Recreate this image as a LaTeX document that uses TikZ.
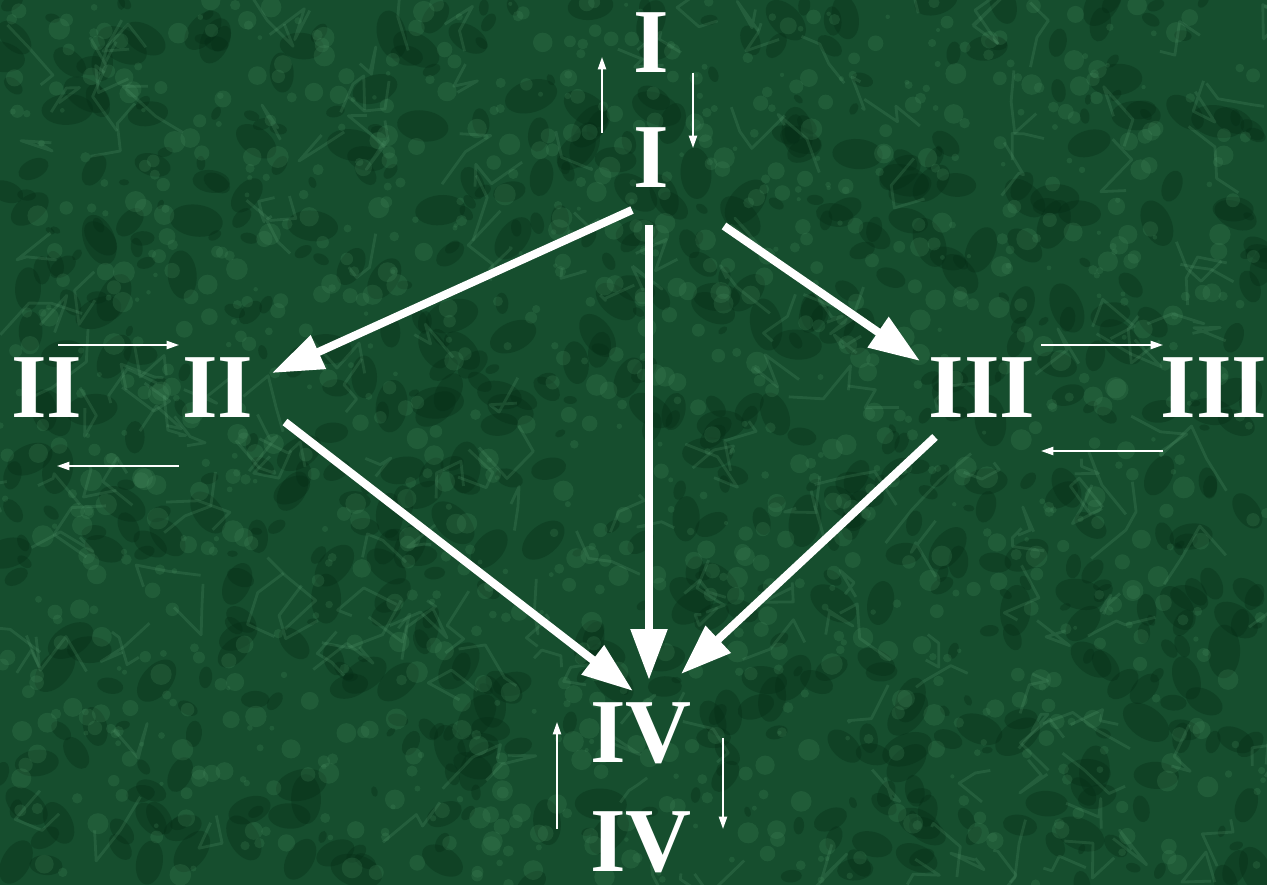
\documentclass[tikz,border=0pt]{standalone}
\usepackage{fontspec}
\setmainfont{Liberation Serif}
\usetikzlibrary{arrows.meta}
\definecolor{bgdark}{RGB}{22,78,46}
\definecolor{bgmid}{RGB}{72,142,96}
\definecolor{bglight}{RGB}{100,170,125}
\definecolor{bgdeep}{RGB}{5,44,22}
\tikzset{
  numeral/.style={text=white, font=\fontsize{52}{52}\selectfont\bfseries, inner sep=0pt},
  bigarrow/.style={white, line width=4.6pt, -{Triangle[length=29pt,width=20pt]}},
  smallarrow/.style={white, line width=1.1pt, -{Triangle[length=7pt,width=4.6pt]}},
  blob/.style={fill=bgmid, opacity=0.22},
  darkblob/.style={fill=bgdeep, opacity=0.35},
  vein/.style={draw=bglight, opacity=0.18, line width=1.6pt, line join=round}
}
\begin{document}
\begin{tikzpicture}[x=0.02cm,y=-0.02cm]
\fill[bgdark] (0,0) rectangle (1267,885);
\useasboundingbox (0,0) rectangle (1267,885);
\begin{scope}
\clip (0,0) rectangle (1267,885);
\pgfmathsetseed{11}
\foreach \i in {1,...,700}{
  \pgfmathsetmacro{\xx}{rnd*1267}
  \pgfmathsetmacro{\yy}{rnd*885}
  \pgfmathsetmacro{\rr}{5+rnd*22}
  \pgfmathsetmacro{\ra}{360*rnd}
  \fill[darkblob, rotate around={\ra:(\xx,\yy)}] (\xx,\yy) ellipse[x radius=\rr, y radius=0.6*\rr];
}
\foreach \i in {1,...,1100}{
  \pgfmathsetmacro{\xx}{rnd*1267}
  \pgfmathsetmacro{\yy}{rnd*885}
  \pgfmathsetmacro{\rr}{2+rnd*9}
  \fill[blob] (\xx,\yy) circle[radius=\rr];
}
\foreach \i in {1,...,220}{
  \pgfmathsetmacro{\xa}{rnd*1267}
  \pgfmathsetmacro{\ya}{rnd*885}
  \pgfmathsetmacro{\xb}{\xa+rand*35}
  \pgfmathsetmacro{\yb}{\ya+rand*35}
  \pgfmathsetmacro{\xc}{\xb+rand*35}
  \pgfmathsetmacro{\yc}{\yb+rand*35}
  \pgfmathsetmacro{\xd}{\xc+rand*35}
  \pgfmathsetmacro{\yd}{\yc+rand*35}
  \draw[vein] (\xa,\ya) -- (\xb,\yb) -- (\xc,\yc) -- (\xd,\yd);
}
\end{scope}

% numerals
\node[numeral] (I1) at (651,43) {I};
\node[numeral] (I2) at (651,158) {I};
\node[numeral] (II1) at (47,388) {II};
\node[numeral] (II2) at (218,388) {II};
\node[numeral] (III1) at (982,388) {III};
\node[numeral] (III2) at (1214,388) {III};
\node[numeral] (IV1) at (641,733) {IV};
\node[numeral] (IV2) at (641,842) {IV};

% small arrows
\coordinate (tu1) at (602,133); \coordinate (tu2) at (602,57);
\coordinate (td1) at (693,73);  \coordinate (td2) at (693,148);
\coordinate (lr1) at (58,345);  \coordinate (lr2) at (179,345);
\coordinate (ll1) at (179,466); \coordinate (ll2) at (57,466);
\coordinate (rr1) at (1041,345); \coordinate (rr2) at (1163,345);
\coordinate (rl1) at (1163,451); \coordinate (rl2) at (1041,451);
\coordinate (bu1) at (557,829); \coordinate (bu2) at (557,722);
\coordinate (bd1) at (723,738); \coordinate (bd2) at (723,829);
\draw[smallarrow] (tu1) -- (tu2);
\draw[smallarrow] (td1) -- (td2);
\draw[smallarrow] (lr1) -- (lr2);
\draw[smallarrow] (ll1) -- (ll2);
\draw[smallarrow] (rr1) -- (rr2);
\draw[smallarrow] (rl1) -- (rl2);
\draw[smallarrow] (bu1) -- (bu2);
\draw[smallarrow] (bd1) -- (bd2);

% big arrows
\coordinate (a1s) at (632,210); \coordinate (a1e) at (272,373);
\coordinate (a2s) at (649,225); \coordinate (a2e) at (649,680);
\coordinate (a3s) at (724,226); \coordinate (a3e) at (920,361);
\coordinate (a4s) at (285,422); \coordinate (a4e) at (633,691);
\coordinate (a5s) at (935,437); \coordinate (a5e) at (681,674);
\draw[bigarrow] (a1s) -- (a1e);
\draw[bigarrow] (a2s) -- (a2e);
\draw[bigarrow] (a3s) -- (a3e);
\draw[bigarrow] (a4s) -- (a4e);
\draw[bigarrow] (a5s) -- (a5e);
\end{tikzpicture}
\end{document}
